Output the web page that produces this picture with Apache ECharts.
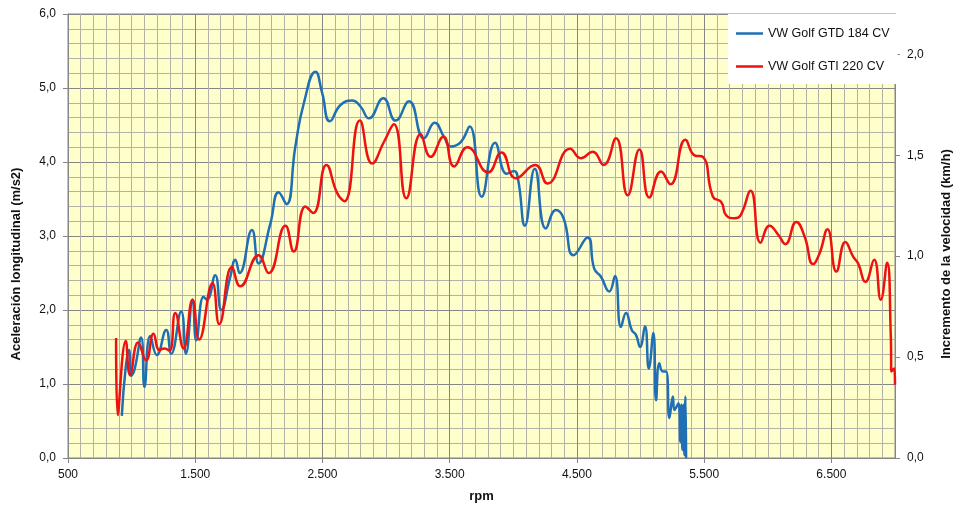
<!DOCTYPE html>
<html>
<head>
<meta charset="utf-8">
<script src="https://cdn.jsdelivr.net/npm/echarts@6/dist/echarts.min.js"></script>
<style>html,body{margin:0;padding:0;background:#fff;}#c{width:962px;height:519px;}</style>
</head>
<body>
<div id="c"></div>
<script>
// Tick labels
const rpmTicks = [500, 1500, 2500, 3500, 4500, 5500, 6500];
const accTicks = [0, 1, 2, 3, 4, 5, 6];
const velTicks = [0, 0.5, 1, 1.5, 2];

// VW Golf GTD 184 CV
const gtdRpm = [923, 954, 980, 996, 1022, 1075, 1101, 1146, 1198, 1272, 1311, 1390, 1427, 1479, 1508, 1565, 1592, 1657, 1705, 1776, 1815, 1849, 1946, 1998, 2091, 2156, 2217, 2287, 2353, 2445, 2498, 2558, 2642, 2734, 2799, 2865, 2978, 3075, 3180, 3298, 3382, 3455, 3508, 3587, 3657, 3752, 3857, 3949, 4006, 4038, 4091, 4169, 4256, 4335, 4395, 4474, 4584, 4636, 4689, 4754, 4799, 4846, 4886, 4931, 4965, 4996, 5035, 5065, 5101, 5122, 5148, 5175, 5201, 5227, 5254, 5266, 5298, 5313, 5321, 5329, 5337, 5345, 5353, 5358];
const gtdAcc = [0.57, 1.23, 1.46, 1.11, 1.19, 1.63, 0.96, 1.65, 1.39, 1.73, 1.41, 1.98, 1.41, 2.14, 1.59, 2.18, 2.14, 2.47, 2.00, 2.45, 2.68, 2.50, 3.08, 2.63, 3.17, 3.59, 3.43, 4.21, 4.79, 5.22, 4.93, 4.55, 4.77, 4.83, 4.75, 4.59, 4.86, 4.56, 4.82, 4.32, 4.53, 4.34, 4.21, 4.27, 4.48, 3.53, 4.26, 3.84, 3.88, 3.76, 3.14, 3.91, 3.10, 3.35, 3.24, 2.74, 2.98, 2.56, 2.45, 2.25, 2.46, 1.77, 1.96, 1.73, 1.66, 1.50, 1.78, 1.21, 1.69, 0.78, 1.28, 1.17, 1.17, 0.54, 0.83, 0.65, 0.74, 0.22, 0.72, 0.11, 0.72, 0.04, 0.83, 0.00];

// VW Golf GTI 220 CV
const gtiRpm = [878, 891, 954, 988, 1051, 1114, 1172, 1219, 1258, 1298, 1343, 1408, 1479, 1531, 1636, 1689, 1789, 1854, 1998, 2077, 2209, 2274, 2366, 2427, 2531, 2616, 2673, 2794, 2891, 2983, 3061, 3159, 3272, 3350, 3450, 3534, 3639, 3802, 3907, 4020, 4172, 4269, 4447, 4531, 4624, 4710, 4807, 4899, 4991, 5069, 5161, 5235, 5353, 5424, 5490, 5569, 5634, 5673, 5739, 5786, 5865, 5943, 6014, 6085, 6138, 6224, 6290, 6356, 6408, 6469, 6539, 6610, 6671, 6710, 6768, 6836, 6888, 6938, 6967, 6972, 6994, 7000];
const gtiAcc = [1.62, 0.58, 1.58, 1.12, 1.56, 1.32, 1.68, 1.46, 1.48, 1.45, 1.96, 1.48, 2.14, 1.60, 2.36, 1.81, 2.58, 2.32, 2.74, 2.50, 3.14, 2.79, 3.40, 3.31, 3.96, 3.58, 3.47, 4.56, 3.98, 4.27, 4.51, 3.51, 4.38, 4.07, 4.34, 3.94, 4.20, 3.86, 4.13, 3.78, 3.96, 3.71, 4.18, 4.05, 4.14, 3.96, 4.32, 3.55, 4.17, 3.52, 3.87, 3.70, 4.30, 4.09, 4.07, 3.53, 3.46, 3.28, 3.24, 3.28, 3.61, 2.91, 3.14, 3.01, 2.89, 3.19, 2.99, 2.62, 2.77, 3.09, 2.52, 2.92, 2.72, 2.63, 2.38, 2.68, 2.14, 2.64, 1.64, 1.17, 1.21, 0.99];

const zip = (xs, ys) => xs.map((x, i) => [x, ys[i]]);
const comma1 = v => Number(v).toFixed(1).replace('.', ',');
const thousands = v => String(v).replace(/\B(?=(\d{3})+(?!\d))/g, '.');

const MAJOR = '#868686', MINOR = '#B2B2A8';
const FONT = 'Liberation Sans';
const nameStyle = {fontFamily: FONT, fontWeight: 'bold', fontSize: 13, color: '#111'};
const labStyle = {fontSize: 12, color: '#111', fontFamily: FONT};

const chart = echarts.init(document.getElementById('c'), null, {renderer: 'canvas'});
chart.setOption({
  animation: false,
  backgroundColor: '#ffffff',
  textStyle: {fontFamily: FONT},
  grid: {left: 68, right: 67, top: 14, bottom: 61, show: true, backgroundColor: '#FFFFCC', borderColor: MAJOR, borderWidth: 1},
  legend: {
    orient: 'vertical', left: 728, top: 14, width: 167,
    backgroundColor: '#ffffff', padding: [13, 8, 11, 8], itemGap: 20,
    icon: 'rect', itemWidth: 27, itemHeight: 2.5,
    textStyle: {fontFamily: FONT, fontSize: 12.5, color: '#111'},
    data: ['VW Golf GTD 184 CV', 'VW Golf GTI 220 CV']
  },
  xAxis: [{
    // data axis: carries the 100 rpm grid
    type: 'value', min: 500, max: 7000, interval: 100, position: 'bottom',
    axisLine: {show: false}, axisTick: {show: false}, axisLabel: {show: false},
    splitLine: {show: true, lineStyle: {color: [MAJOR, MINOR, MINOR, MINOR, MINOR, MINOR, MINOR, MINOR, MINOR, MINOR], width: 1}}
  }, {
    // label axis
    type: 'value', min: 500, max: 7000, position: 'bottom',
    name: 'rpm', nameLocation: 'middle', nameGap: 32, nameTextStyle: nameStyle,
    axisLine: {show: true, lineStyle: {color: MAJOR}},
    axisTick: {show: true, length: 5, lineStyle: {color: MAJOR}, customValues: rpmTicks},
    axisLabel: Object.assign({customValues: rpmTicks, formatter: thousands, margin: 11}, labStyle),
    splitLine: {show: false}
  }],
  yAxis: [{
    type: 'value', min: 0, max: 6, interval: 1, position: 'left',
    name: 'Aceleración longitudinal (m/s2)', nameLocation: 'middle', nameRotate: 90, nameGap: 45,
    nameTextStyle: Object.assign({padding: [0, 56, 0, 0]}, nameStyle),
    axisLine: {show: true, lineStyle: {color: MAJOR}},
    axisTick: {show: true, length: 5, lineStyle: {color: MAJOR}},
    axisLabel: Object.assign({formatter: comma1, margin: 12}, labStyle),
    splitLine: {show: true, lineStyle: {color: MAJOR, width: 1}},
    minorTick: {show: false, splitNumber: 5},
    minorSplitLine: {show: true, lineStyle: {color: MINOR, width: 1}}
  }, {
    type: 'value', min: 0, max: 2.2, position: 'right',
    name: 'Incremento de la velocidad (km/h)', nameLocation: 'middle', nameRotate: 90, nameGap: 45,
    nameTextStyle: Object.assign({padding: [0, 36, 0, 0]}, nameStyle),
    axisLine: {show: true, lineStyle: {color: MAJOR}},
    axisTick: {show: true, length: 5, lineStyle: {color: MAJOR}, customValues: velTicks},
    axisLabel: Object.assign({customValues: velTicks, formatter: comma1, margin: 12}, labStyle),
    splitLine: {show: false}
  }],
  series: [{
    name: 'VW Golf GTD 184 CV', type: 'line', xAxisIndex: 0, yAxisIndex: 0,
    data: zip(gtdRpm, gtdAcc), showSymbol: false, smooth: 0.5,
    lineStyle: {color: '#1F6FB4', width: 2.5}, itemStyle: {color: '#1F6FB4'}, z: 3
  }, {
    name: 'VW Golf GTI 220 CV', type: 'line', xAxisIndex: 0, yAxisIndex: 0,
    data: zip(gtiRpm, gtiAcc), showSymbol: false, smooth: 0.5,
    lineStyle: {color: '#EE1111', width: 2.5}, itemStyle: {color: '#EE1111'}, z: 4
  }]
});
</script>
</body>
</html>
